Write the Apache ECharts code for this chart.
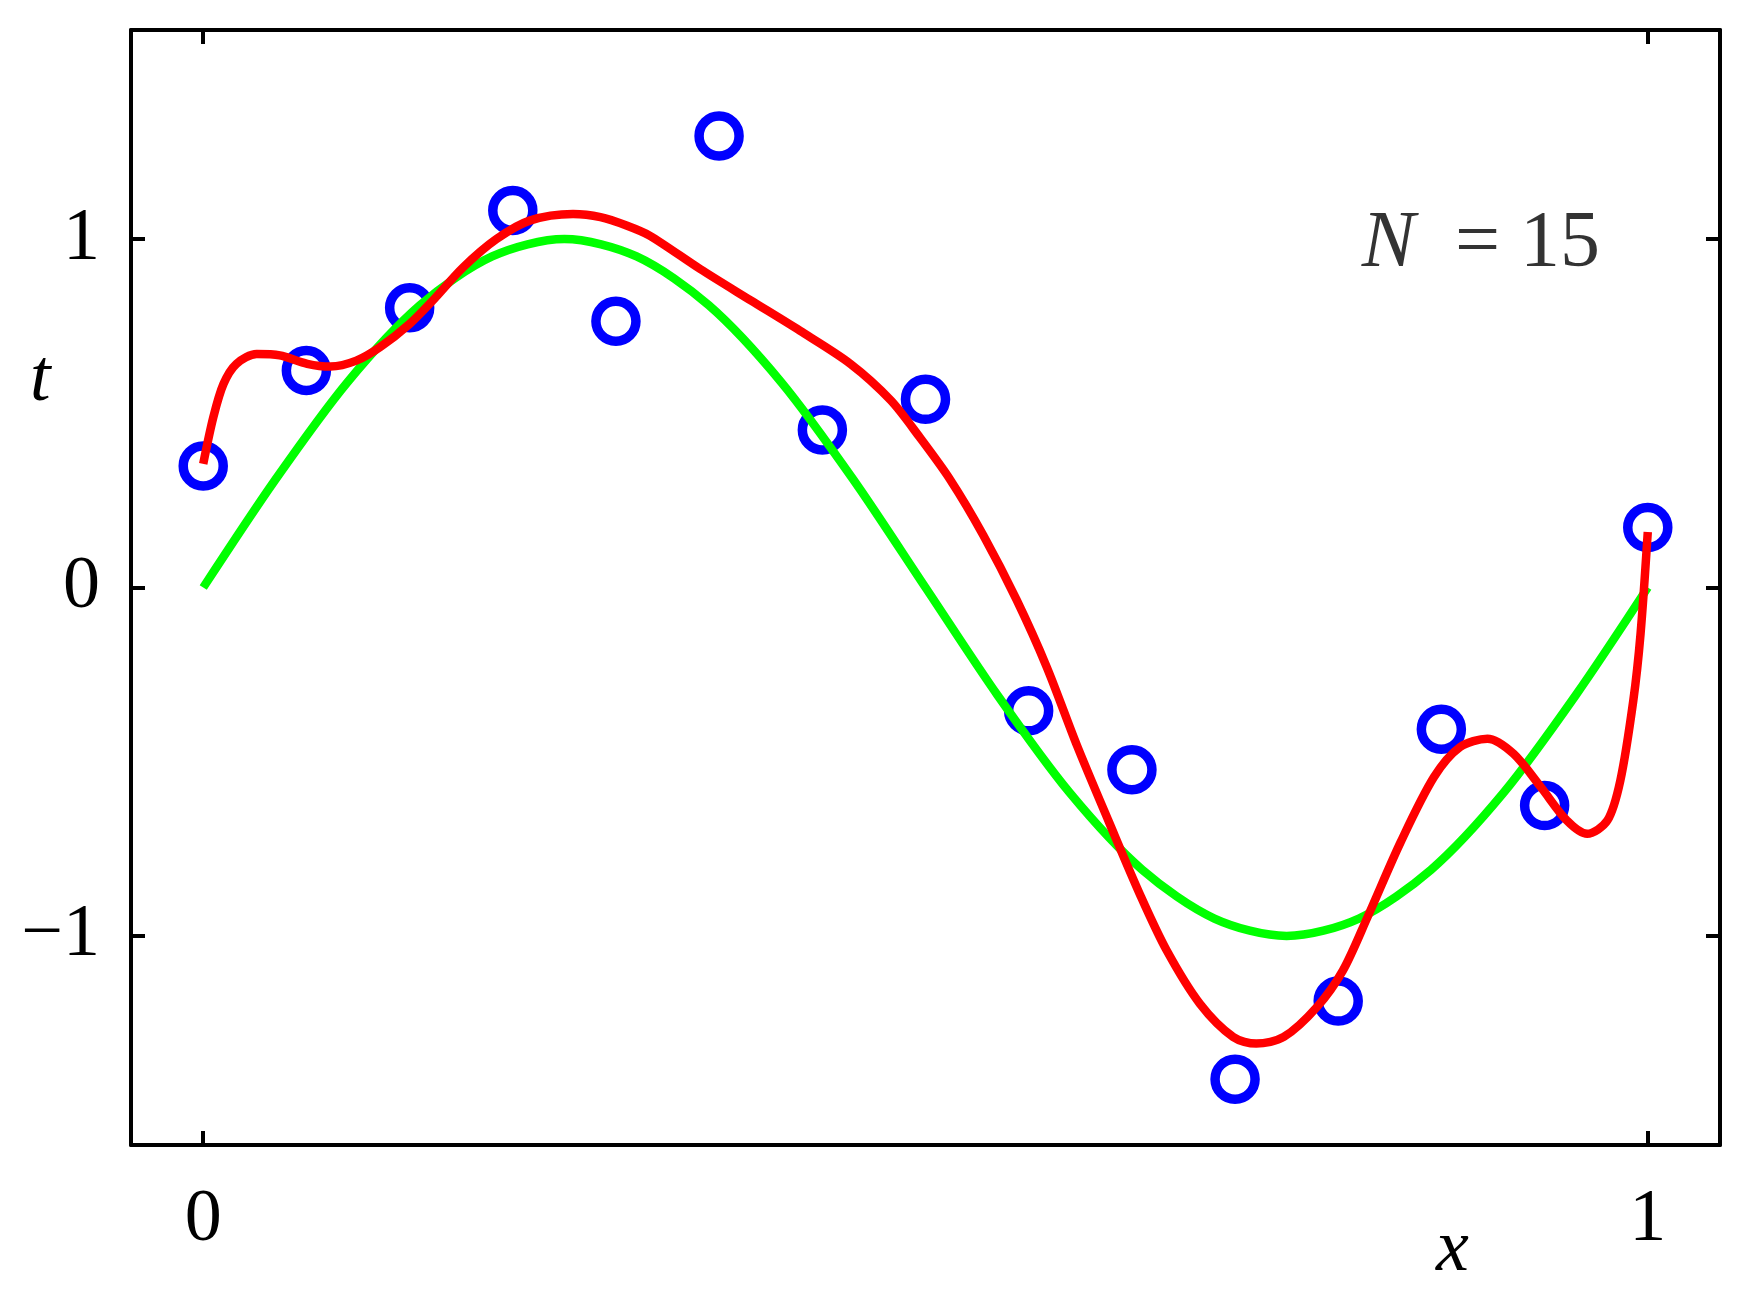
<!DOCTYPE html>
<html>
<head>
<meta charset="utf-8">
<script src="https://cdn.jsdelivr.net/npm/echarts@6/dist/echarts.min.js"></script>
<style>
html,body{margin:0;padding:0;background:#fff;}
#chart{width:1750px;height:1300px;}
</style>
</head>
<body>
<div id="chart"></div>
<script>
// ---- data ----
const pointX = [0, 0.0714, 0.1429, 0.2143, 0.2857, 0.3571, 0.4286, 0.5, 0.5714, 0.6429, 0.7143, 0.7857, 0.8571, 0.9286, 1.0];
const pointT = [0.349, 0.623, 0.803, 1.082, 0.764, 1.296, 0.452, 0.540, -0.354, -0.523, -1.411, -1.187, -0.407, -0.626, 0.172];

const greenX = [0, 0.05, 0.1, 0.15, 0.2, 0.25, 0.3, 0.35, 0.4, 0.45, 0.5, 0.55, 0.6, 0.65, 0.7, 0.75, 0.8, 0.85, 0.9, 0.95, 1.0];
const greenY = [0, 0.31, 0.59, 0.81, 0.95, 1.00, 0.95, 0.81, 0.59, 0.31, 0, -0.31, -0.59, -0.81, -0.95, -1.00, -0.95, -0.81, -0.59, -0.31, 0];

const redX = [0.000, 0.007, 0.014, 0.023, 0.037, 0.053, 0.072, 0.088, 0.106, 0.1225, 0.143, 0.159, 0.180, 0.203, 0.226, 0.256, 0.275, 0.293, 0.309, 0.344, 0.379, 0.413, 0.448, 0.476, 0.496, 0.517, 0.540, 0.563, 0.584, 0.605, 0.627, 0.649, 0.667, 0.690, 0.713, 0.729, 0.748, 0.771, 0.789, 0.806, 0.829, 0.852, 0.870, 0.889, 0.907, 0.926, 0.944, 0.958, 0.972, 0.981, 0.990, 0.995, 1.000];
const redY = [0.355, 0.489, 0.584, 0.642, 0.670, 0.666, 0.642, 0.634, 0.651, 0.690, 0.757, 0.824, 0.919, 1.000, 1.053, 1.072, 1.063, 1.039, 1.010, 0.914, 0.824, 0.737, 0.642, 0.537, 0.431, 0.310, 0.150, -0.035, -0.229, -0.455, -0.673, -0.886, -1.042, -1.195, -1.290, -1.309, -1.290, -1.204, -1.099, -0.946, -0.730, -0.544, -0.458, -0.434, -0.477, -0.573, -0.669, -0.707, -0.669, -0.554, -0.324, -0.133, 0.159];

const xTicks = [0, 1];
const yTicks = [-1, 0, 1];
const xRange = [-0.05, 1.05];
const yRange = [-1.6, 1.6];
const annotation = {name: 'N', rest: '\u2002= 15', x: 0.967, y: 1.0};
const xName = 'x';
const yName = 't';

// ---- chart ----
const FONT = '"Liberation Serif", "DejaVu Serif", serif';
const zip = (a, b) => a.map((v, i) => [v, b[i]]);

function axisBase(pos, ticks, showLabels, range, margin) {
  return {
    type: 'value', position: pos, min: range[0], max: range[1],
    axisLine: {show: true, onZero: false, lineStyle: {color: '#000', width: 4}},
    axisTick: {show: true, inside: true, length: 14, customValues: ticks, lineStyle: {color: '#000', width: 4}},
    axisLabel: {show: showLabels, customValues: ticks, margin: margin, color: '#000', fontFamily: FONT, fontSize: 74,
      formatter: v => (v < 0 ? '\u2212' + Math.abs(v) : String(v))},
    splitLine: {show: false}
  };
}

const chart = echarts.init(document.getElementById('chart'), null, {renderer: 'canvas'});
chart.setOption({
  backgroundColor: '#fff',
  animation: false,
  grid: {left: 131, right: 30, top: 30, bottom: 155, containLabel: false, outerBoundsMode: 'none'},
  xAxis: [axisBase('bottom', xTicks, true, xRange, 39), axisBase('top', xTicks, false, xRange, 28)],
  yAxis: [axisBase('left', yTicks, true, yRange, 31), axisBase('right', yTicks, false, yRange, 30)],
  series: [
    {type: 'line', data: zip(greenX, greenY), smooth: 0.3, symbol: 'none',
      lineStyle: {color: '#00ff00', width: 8.5}},
    {type: 'scatter', data: zip(pointX, pointT), symbol: 'circle', symbolSize: 40,
      itemStyle: {color: 'rgba(0,0,0,0)', borderColor: '#0000ff', borderWidth: 9.5, opacity: 1}},
    {type: 'line', data: zip(redX, redY), smooth: 0.3, symbol: 'none',
      lineStyle: {color: '#ff0000', width: 8.5}},
    {type: 'scatter', data: [[annotation.x, annotation.y]], symbolSize: 0, silent: true,
      label: {show: true, position: 'left', distance: 0, offset: [0, 6], color: '#000',
        formatter: '{i|' + annotation.name + '}{r|' + annotation.rest + '}',
        rich: {i: {fontFamily: FONT, fontStyle: 'italic', fontSize: 80, color: '#000'},
               r: {fontFamily: FONT, fontSize: 80, color: '#000'}}}}
  ],
  graphic: [
    {type: 'text', left: 30, top: 344, style: {text: yName, font: 'italic 74px ' + FONT, fill: '#000'}},
    {type: 'text', left: 1436, top: 1214, style: {text: xName, font: 'italic 74px ' + FONT, fill: '#000'}}
  ]
});
</script>
</body>
</html>
